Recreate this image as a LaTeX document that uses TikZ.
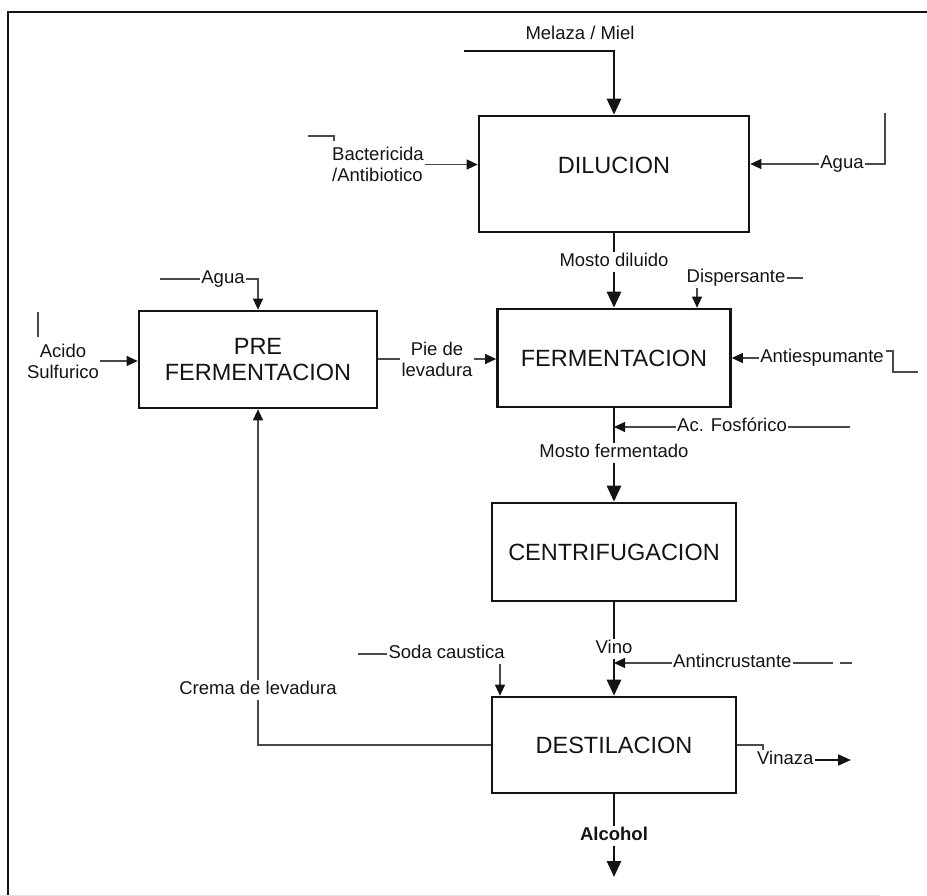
\documentclass[tikz,border=0pt]{standalone}
\usepackage{fontspec}
\setmainfont{Liberation Sans}
\usetikzlibrary{arrows.meta}
\definecolor{ink}{HTML}{141414}
\definecolor{sidegray}{HTML}{4A4A4A}
\tikzset{
 box/.style={draw=ink, line width=2.6pt, fill=white, font=\fontsize{23.5}{26}\selectfont, text=ink, align=center, inner sep=0pt},
 boxtext/.style={font=\fontsize{23.5}{26}\selectfont, text=ink, inner sep=0pt},
 lbl/.style={font=\fontsize{18.5}{21}\selectfont, text=ink, inner sep=1pt, text height=13pt, text depth=4pt},
 lbltwo/.style={font=\fontsize{18.5}{21}\selectfont, text=ink, inner sep=1pt, align=center},
 mainln/.style={draw=ink, line width=2.8pt},
 mainarr/.style={mainln, -{Triangle[width=14pt,length=16pt]}},
 sideln/.style={draw=sidegray, line width=1.1pt},
 sidearr/.style={sideln, -{Triangle[width=10pt,length=11pt,color=ink]}},
}
\begin{document}
\begin{tikzpicture}[x=1pt,y=-1pt]
\useasboundingbox (0,0) rectangle (927,896);
% frame
\draw[ink, line width=2.2pt] (8,896) -- (8,12) -- (927,12);
\draw[black!12, line width=1pt] (0,895) -- (880,895);

% boxes
\node[box, minimum width=270pt, minimum height=116pt] (dil) at (614,174) {};
\node[boxtext] (dilT) at (614,165) {DILUCION};
\node[box, minimum width=238pt, minimum height=97pt] (pre) at (258,359.5) {PRE\\FERMENTACION};
\node[box, minimum width=233pt, minimum height=98pt] (fer) at (614,358) {FERMENTACION};
\node[box, minimum width=244pt, minimum height=98pt] (cen) at (614,552) {CENTRIFUGACION};
\node[box, minimum width=244pt, minimum height=96pt] (des) at (614,745) {DESTILACION};

% labels
\node[lbl] (mel) at (580,35) {Melaza / Miel};
\node[lbltwo, anchor=west, align=left] (bac) at (331,164.5) {Bactericida\\/Antibiotico};
\node[lbl] (aguaR) at (842,164) {Agua};
\node[lbl] (mdil) at (614,262) {Mosto diluido};
\node[lbl] (disp) at (736,278) {Dispersante};
\node[lbl] (antiesp) at (822,358) {Antiespumante};
\node[lbl, anchor=west] (acfos) at (676,427) {Ac. Fosfórico};
\node[lbl] (mfer) at (614,453) {Mosto fermentado};
\node[lbl] (vino) at (614,649) {Vino};
\node[lbl, anchor=west] (antinc) at (672,663) {Antincrustante};
\node[lbl, anchor=east] (soda) at (506,654) {Soda caustica};
\node[lbl] (crema) at (258,690) {Crema de levadura};
\node[lbl, anchor=west] (vinaza) at (756,760) {Vinaza};
\node[lbl, font=\bfseries\fontsize{18.5}{21}\selectfont] (alc) at (614,836) {Alcohol};
\node[lbl] (aguaL) at (223,279) {Agua};
\node[lbltwo] (acido) at (63,361) {Acido\\Sulfurico};
\node[lbltwo] (pie) at (437,359) {Pie de\\levadura};

% free-end coordinates
\coordinate (melS) at (464,51);
\coordinate (bk1) at (308,136);
\coordinate (bk2) at (334,141);
\coordinate (aguaTop) at (885,113);
\coordinate (dispE) at (803,278);
\coordinate (dispA) at (697,288);
\coordinate (ae1) at (886,351);
\coordinate (ae2) at (893,372);
\coordinate (ae3) at (918,372);
\coordinate (acfE) at (850,427);
\coordinate (ai1) at (833,663);
\coordinate (ai2) at (840,663);
\coordinate (ai3) at (852,663);
\coordinate (sodaL) at (358,654);
\coordinate (sodaA) at (500,664);
\coordinate (vb1) at (763,750);
\coordinate (vinE) at (851,760);
\coordinate (alcE) at (614,877);
\coordinate (aguaL0) at (160,279);
\coordinate (ac1) at (38,312);
\coordinate (ac2) at (38,337);

% main stream
\draw[mainarr] (melS) -| (dil.north);
\draw[mainln] (dil.south) -- (mdil.north);
\draw[mainarr] (mdil.south) -- (fer.north);
\draw[mainln] (fer.south) -- (mfer.north);
\draw[mainarr] (mfer.south) -- (cen.north);
\draw[mainln] (cen.south) -- (vino.north);
\draw[mainarr] (vino.south) -- (des.north);
\draw[mainln] (des.south) -- (alc.north);
\draw[mainarr] (alc.south) -- (alcE);

% DILUCION inputs
\draw[sideln] (bk1) -| (bk2);
\draw[sidearr] (bac.east) -- (dil.west |- bac.east);
\draw[sideln] (aguaTop) |- (aguaR.east);
\draw[sidearr] (aguaR.west) -- (dil.east |- aguaR.west);

% FERMENTACION inputs
\draw[sideln] (disp.east) -- (dispE);
\draw[sidearr] (dispA) -- (dispA |- fer.north);
\draw[sidearr] (antiesp.west) -- (fer.east |- antiesp.west);
\draw[sideln] (ae1) -- (ae1 -| ae2) -- (ae2) -- (ae3);
\draw[sidearr] (acfos.west) -- (fer.south |- acfos.west);
\draw[sideln] (acfos.east) -- (acfE);

% PRE FERMENTACION
\draw[sideln] (aguaL0) -- (aguaL.west);
\draw[sidearr] (aguaL.east) -| (pre.north);
\draw[sideln] (ac1) -- (ac2);
\draw[sidearr] (acido.east) -- (pre.west |- acido.east);
\draw[sideln] (pre.east |- pie.west) -- (pie.west);
\draw[sidearr] (pie.east) -- (fer.west |- pie.east);

% DESTILACION
\draw[sideln] (antinc.east) -- (ai1);
\draw[sideln] (ai2) -- (ai3);
\draw[sidearr] (antinc.west) -- (des.north |- antinc.west);
\draw[sideln] (sodaL) -- (soda.west);
\draw[sidearr] (sodaA) -- (sodaA |- des.north);
\draw[sideln] (des.west) -| (crema.south);
\draw[sidearr] (crema.north) -- (pre.south);
\draw[sideln] (des.east) -| (vb1);
\draw[ink, line width=1.8pt, -{Triangle[width=11pt,length=13pt]}] (vinaza.east) -- (vinE);
\end{tikzpicture}
\end{document}
